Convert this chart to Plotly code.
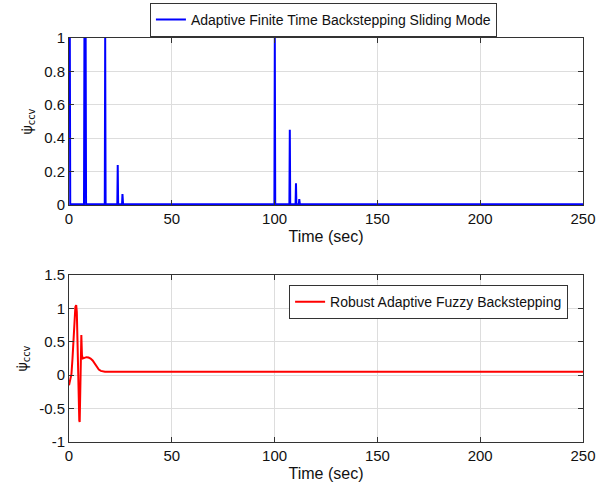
import plotly.graph_objects as go

# Adaptive finite-time backstepping sliding mode: spiky switching signal
t_afbsm = [0, 0.4, 0.6, 7.3, 7.5, 8.1, 8.3, 17.4, 17.6, 17.8,
           23.5, 23.7, 23.9, 25.8, 26.0, 26.3,
           99.9, 100.1, 100.3, 107.2, 107.4, 107.6,
           110.2, 110.4, 110.6, 111.8, 112.0, 112.3, 250]
psi_afbsm = [1.0, 1.0, 0.004, 0.004, 1.0, 1.0, 0.004, 0.004, 1.0, 0.004,
             0.004, 0.24, 0.004, 0.004, 0.065, 0.004,
             0.004, 1.0, 0.004, 0.004, 0.45, 0.004,
             0.004, 0.13, 0.004, 0.004, 0.035, 0.004, 0.004]

# Robust adaptive fuzzy backstepping: smooth transient settling to ~0.05
t_rafb = [0, 0.4, 0.8, 1.2, 1.7, 2.2, 2.7, 3.1, 3.5, 3.8, 4.1, 4.4, 4.7,
          5.0, 5.2, 5.4, 5.6, 5.8, 6.0, 6.3, 6.7, 7.5, 8.5, 9.5, 10.5,
          11.5, 12.5, 13.5, 14.5, 15.5, 16.5, 17.5, 19, 250]
psi_rafb = [-0.15, -0.1, -0.05, 0.02, 0.25, 0.6, 0.9, 1.02, 1.05, 0.95,
            0.55, 0.0, -0.45, -0.68, -0.7, -0.35, 0.15, 0.55, 0.6, 0.3,
            0.25, 0.26, 0.27, 0.265, 0.25, 0.22, 0.17, 0.12, 0.085, 0.065,
            0.055, 0.052, 0.05, 0.05]

x_ticks = [0, 50, 100, 150, 200, 250]
top_yticks = [0, 0.2, 0.4, 0.6, 0.8, 1]
top_ylabels = ["0", "0.2", "0.4", "0.6", "0.8", "1"]
bot_yticks = [-1, -0.5, 0, 0.5, 1, 1.5]
bot_ylabels = ["-1", "-0.5", "0", "0.5", "1", "1.5"]

FONT = "Liberation Sans, Arial, sans-serif"

fig = go.Figure()
fig.add_trace(go.Scatter(
    x=t_afbsm, y=psi_afbsm, mode="lines",
    line=dict(color="#0000ff", width=2),
    name="Adaptive Finite Time Backstepping Sliding Mode",
    xaxis="x", yaxis="y", legend="legend", showlegend=True))
fig.add_trace(go.Scatter(
    x=t_rafb, y=psi_rafb, mode="lines",
    line=dict(color="#ff0000", width=2),
    name="Robust Adaptive Fuzzy Backstepping",
    xaxis="x2", yaxis="y2", legend="legend2", showlegend=True))

axis_common = dict(
    showline=True, linecolor="#333333", linewidth=1, mirror="ticks",
    ticks="inside", ticklen=5, tickcolor="#333333",
    showgrid=True, gridcolor="#dddddd", gridwidth=1, zeroline=False,
    tickfont=dict(family=FONT, size=15, color="#111111"),
)

ylabel = "ψ̇<sub>ccv</sub>"

fig.update_layout(
    width=598, height=488,
    showlegend=True,
    margin=dict(l=69, r=15, t=38, b=46, autoexpand=False),
    paper_bgcolor="white", plot_bgcolor="white",
    font=dict(family=FONT, color="#111111"),
    xaxis=dict(domain=[0, 1], anchor="y", range=[0, 250], tickvals=x_ticks,
               title=dict(text="Time (sec)", font=dict(size=16), standoff=4),
               **axis_common),
    yaxis=dict(domain=[0.5866, 1], anchor="x", range=[0, 1],
               tickvals=top_yticks, ticktext=top_ylabels,
               title=dict(text=ylabel, font=dict(family="DejaVu Sans", size=14), standoff=8),
               **axis_common),
    xaxis2=dict(domain=[0, 1], anchor="y2", range=[0, 250], tickvals=x_ticks,
                title=dict(text="Time (sec)", font=dict(size=16), standoff=4),
                **axis_common),
    yaxis2=dict(domain=[0, 0.4134], anchor="x2", range=[-1, 1.5],
                tickvals=bot_yticks, ticktext=bot_ylabels,
                title=dict(text=ylabel, font=dict(family="DejaVu Sans", size=14), standoff=8),
                **axis_common),
    legend=dict(x=0.495, y=1.087, xanchor="center", yanchor="top",
                bgcolor="white", bordercolor="#333333", borderwidth=1,
                font=dict(family=FONT, size=14, color="#111111")),
    legend2=dict(x=0.971, y=0.388, xanchor="right", yanchor="top",
                 bgcolor="white", bordercolor="#333333", borderwidth=1,
                 font=dict(family=FONT, size=14, color="#111111")),
)

fig.write_html("out.html")
